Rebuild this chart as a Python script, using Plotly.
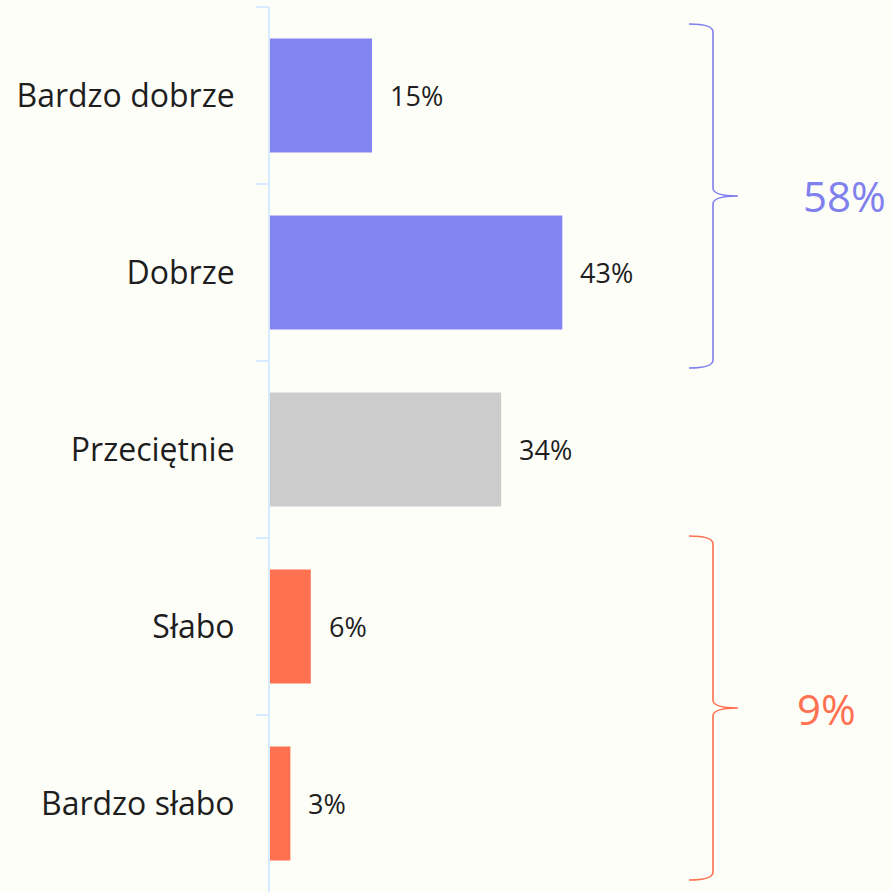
import plotly.graph_objects as go

# Survey answers (top to bottom) and their shares in percent
categories = ["Bardzo dobrze", "Dobrze", "Przeciętnie", "Słabo", "Bardzo słabo"]
values = [15, 43, 34, 6, 3]
bar_colors = ["#8383F1", "#8383F1", "#CCCCCC", "#FF7150", "#FF7150"]

# Grouped totals shown beside the braces
group_labels = ["58%", "9%"]
group_colors = ["#8080EE", "#FF7150"]

W, H = 892, 892
M_L, M_R, M_T, M_B = 270, 0, 7, 0
PW, PH = W - M_L - M_R, H - M_T - M_B
BG = "#FEFEF9"
FONT = "Open Sans"

fig = go.Figure()
fig.add_trace(go.Bar(
    y=categories,
    x=values,
    orientation="h",
    marker=dict(color=bar_colors, line=dict(width=0)),
    width=0.645,
    hoverinfo="skip",
))

# Value labels just to the right of each bar
for cat, v in zip(categories, values):
    fig.add_annotation(
        x=v, y=cat, xref="x", yref="y",
        text=f"{v}%", showarrow=False,
        xanchor="left", yanchor="middle", xshift=16,
        font=dict(family=FONT, size=27, color="#1E1E1E"),
    )


def px(xp):
    return (xp - M_L) / PW


def py(yp):
    return (H - M_B - yp) / PH


def brace_path(x_line, x_end, x_tip, y_top, y_mid, y_bot):
    """Right-facing curly brace in pixel space, converted to paper coordinates."""
    pts = [
        ("M", [(x_end, y_top)]),
        ("Q", [(x_line, y_top), (x_line, y_top + 8)]),
        ("L", [(x_line, y_mid - 8)]),
        ("Q", [(x_line, y_mid), (x_tip, y_mid)]),
        ("Q", [(x_line, y_mid), (x_line, y_mid + 8)]),
        ("L", [(x_line, y_bot - 8)]),
        ("Q", [(x_line, y_bot), (x_end, y_bot)]),
    ]
    out = []
    for cmd, coords in pts:
        out.append(cmd + " " + " ".join(f"{px(a):.5f},{py(b):.5f}" for a, b in coords))
    return " ".join(out)


braces = [
    dict(y_top=24, y_mid=196, y_bot=368, label_x=844),
    dict(y_top=536, y_mid=708, y_bot=880, label_x=826),
]
for b, lab, col in zip(braces, group_labels, group_colors):
    fig.add_shape(
        type="path", xref="paper", yref="paper",
        path=brace_path(713, 689, 738, b["y_top"], b["y_mid"], b["y_bot"]),
        line=dict(color=col, width=1.6),
    )
    fig.add_annotation(
        x=px(b["label_x"]), y=py(b["y_mid"]), xref="paper", yref="paper",
        text=lab, showarrow=False, xanchor="center", yanchor="middle",
        font=dict(family=FONT, size=42, color=col),
    )

fig.update_layout(
    width=W, height=H,
    margin=dict(l=M_L, r=M_R, t=M_T, b=M_B, pad=0),
    paper_bgcolor=BG, plot_bgcolor=BG,
    showlegend=False,
    bargap=0.355,
    xaxis=dict(range=[0, 91.5], visible=False, fixedrange=True),
    yaxis=dict(
        type="category",
        categoryorder="array", categoryarray=categories,
        autorange="reversed",
        showline=True, linecolor="#D8EAFF", linewidth=2,
        ticks="outside", tickson="boundaries", ticklen=12,
        tickcolor="#D8EAFF", tickwidth=2,
        showgrid=False, zeroline=False,
        ticklabelstandoff=27,
        tickfont=dict(family=FONT, size=32, color="#1E1E1E"),
    ),
)

fig.write_html("out.html")
